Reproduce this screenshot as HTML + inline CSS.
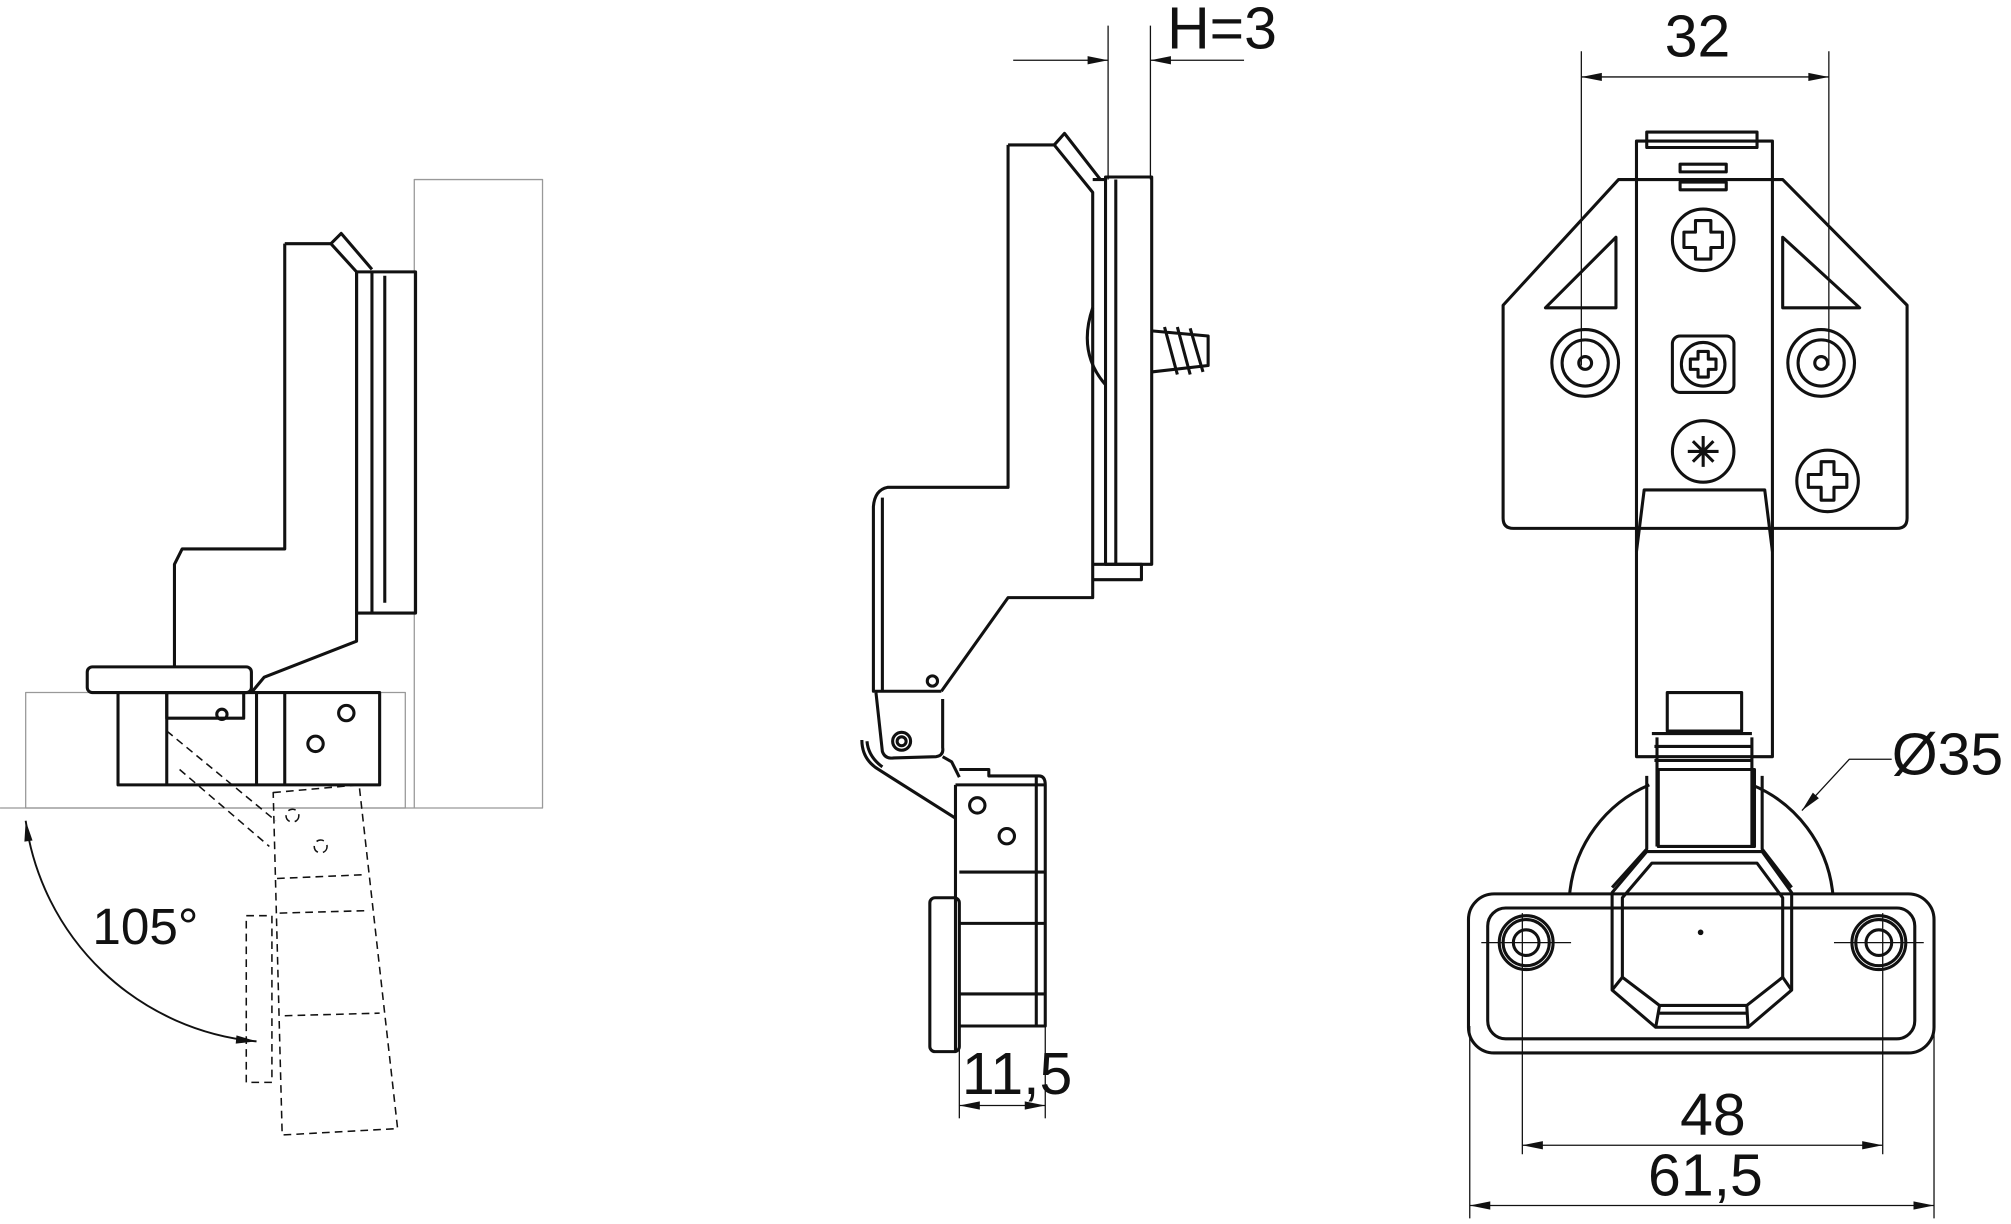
<!DOCTYPE html>
<html><head><meta charset="utf-8">
<style>
html,body{margin:0;padding:0;background:#fff;}
svg{display:block;}
text{font-family:"Liberation Sans",sans-serif;fill:#111;}
</style></head>
<body>
<svg width="2011" height="1224" viewBox="0 0 1568 954.4" xmlns="http://www.w3.org/2000/svg">
<defs>
<marker id="b" viewBox="0 0 20 10" refX="20" refY="5" markerWidth="20" markerHeight="8" orient="auto-start-reverse" markerUnits="userSpaceOnUse"><path d="M0,1 L20,5 L0,9 Z" fill="#111"/></marker>
</defs>
<g fill="none" stroke="#111" stroke-width="2.4" stroke-linejoin="round">
<!-- LEFT VIEW -->
<g stroke="#999" stroke-width="1">
<rect x="323" y="140" width="100" height="490"/>
<line x1="0" y1="630" x2="323" y2="630"/>
<rect x="20" y="540" width="296" height="90"/>
</g>
<path d="M222,190 L258,190 L278,212 L278,500 L206,528 L196,540 M222,190 L222,428 L142,428 L136,440 L136,520"/>
<path d="M258,190 L266,182 L290,210"/>
<rect x="278" y="212" width="46" height="266"/>
<line x1="290" y1="212" x2="290" y2="478"/>
<line x1="300" y1="215" x2="300" y2="470"/>
<rect x="68" y="520" width="128" height="20" rx="4"/>
<rect x="92" y="540" width="204" height="72"/>
<line x1="130" y1="540" x2="130" y2="612"/>
<line x1="200" y1="540" x2="200" y2="612"/>
<line x1="222" y1="540" x2="222" y2="612"/>
<rect x="130" y="540" width="60" height="20"/>
<circle cx="173" cy="557" r="4"/>
<circle cx="270" cy="556" r="6"/>
<circle cx="246" cy="580" r="6"/>
<g stroke-dasharray="6,4" stroke-width="1.2">
<path d="M213,618 L280,612 L310,880 L220,885 Z"/>
<line x1="216" y1="685" x2="285" y2="682"/>
<line x1="218" y1="712" x2="288" y2="710"/>
<line x1="222" y1="792" x2="296" y2="790"/>
<rect x="192" y="714" width="20" height="130"/>
<circle cx="228" cy="636" r="5"/>
<circle cx="250" cy="660" r="5"/>
<path d="M130,570 L215,640 M140,600 L210,660"/>
</g>
<path d="M20,640 A200,200 0 0 0 200,812" marker-start="url(#b)" marker-end="url(#b)" stroke-width="1.5"/>
<!-- MIDDLE VIEW -->
<g stroke-width="1">
<line x1="864" y1="20" x2="864" y2="140"/>
<line x1="897" y1="20" x2="897" y2="140"/>
<line x1="790" y1="47" x2="864" y2="47" marker-end="url(#b)"/>
<line x1="970" y1="47" x2="897" y2="47" marker-end="url(#b)"/>
<line x1="748" y1="800" x2="748" y2="872"/>
<line x1="815" y1="800" x2="815" y2="872"/>
<line x1="748" y1="862" x2="815" y2="862" marker-start="url(#b)" marker-end="url(#b)"/>
</g>
<path d="M786,113 L822,113 L852,150 L852,466 L786,466 L734,539"/>
<path d="M786,113 L786,380 L692,380 Q682,382 681,395 L681,539 L734,539"/>
<line x1="688" y1="388" x2="688" y2="539"/>
<path d="M822,113 L830,104 L858,140"/>
<rect x="862" y="138" width="36" height="302"/>
<line x1="852" y1="140" x2="862" y2="140"/>
<line x1="870" y1="140" x2="870" y2="440"/>
<path d="M852,440 L890,440 L890,452 L852,452"/>
<path d="M852,240 Q840,275 862,300"/>
<path d="M898,258 L942,262 L942,285 L898,290 M908,255 L918,292 M918,255 L928,292 M928,256 L938,290"/>
<circle cx="727" cy="531" r="4"/>
<path d="M683,540 L688,586 Q690,592 697,591 L730,590 Q736,589 735,583 L735,545"/>
<circle cx="703" cy="578" r="7"/><circle cx="703" cy="578" r="3.5"/>
<path d="M672,577 Q672,592 685,600 L745,638"/>
<path d="M676,578 Q677,590 688,598"/>
<path d="M735,590 L742,594 L748,606"/>
<path d="M745,612 L745,820 M748,600 L771,600 L771,605 L810,605 Q815,605 815,612 L815,800 L748,800"/>
<line x1="745" y1="612" x2="815" y2="612"/>
<line x1="808" y1="605" x2="808" y2="800"/>
<circle cx="762" cy="628" r="6"/>
<circle cx="785" cy="652" r="6"/>
<rect x="725" y="700" width="23" height="120" rx="4"/>
<line x1="748" y1="680" x2="815" y2="680"/>
<line x1="748" y1="720" x2="815" y2="720"/>
<line x1="748" y1="775" x2="815" y2="775"/>
<!-- RIGHT VIEW -->
<g stroke-width="1">
<line x1="1233" y1="40" x2="1233" y2="285"/>
<line x1="1426" y1="40" x2="1426" y2="285"/>
<line x1="1233" y1="60" x2="1426" y2="60" marker-start="url(#b)" marker-end="url(#b)"/>
<line x1="1187" y1="712" x2="1187" y2="900"/>
<line x1="1468" y1="712" x2="1468" y2="900"/>
<line x1="1187" y1="893" x2="1468" y2="893" marker-start="url(#b)" marker-end="url(#b)"/>
<line x1="1146" y1="800" x2="1146" y2="950"/>
<line x1="1508" y1="800" x2="1508" y2="950"/>
<line x1="1146" y1="940" x2="1508" y2="940" marker-start="url(#b)" marker-end="url(#b)"/>
<path d="M1475,592 L1442,592 L1405,632" marker-end="url(#b)"/>
<line x1="1155" y1="735" x2="1225" y2="735"/>
<line x1="1430" y1="735" x2="1500" y2="735"/>
</g>
<path d="M1172,238 L1262,140 L1390,140 L1487,238 L1487,404 Q1487,412 1479,412 L1180,412 Q1172,412 1172,404 Z"/>
<path d="M1205,240 L1260,185 L1260,240 Z M1390,185 L1450,240 L1390,240 Z"/>
<rect x="1276" y="110" width="106" height="480"/>
<rect x="1284" y="103" width="86" height="12"/>
<path d="M1276,430 L1282,382 L1376,382 L1382,430"/>
<rect x="1300" y="540" width="58" height="30"/>
<rect x="1310" y="128" width="36" height="6"/><rect x="1310" y="142" width="36" height="6"/>
<circle cx="1328" cy="187" r="24"/>
<path d="M1322,172 h12 v9 h9 v12 h-9 v9 h-12 v-9 h-9 v-12 h9 Z"/>
<circle cx="1236" cy="283" r="26"/><circle cx="1236" cy="283" r="18"/>
<circle cx="1420" cy="283" r="26"/><circle cx="1420" cy="283" r="18"/>
<circle cx="1236" cy="283" r="5"/><circle cx="1420" cy="283" r="5"/>
<rect x="1304" y="262" width="48" height="44" rx="6"/>
<circle cx="1328" cy="284" r="17"/>
<path d="M1324,274 h8 v6 h6 v8 h-6 v6 h-8 v-6 h-6 v-8 h6 Z"/>
<circle cx="1328" cy="352" r="24"/>
<path d="M1316,352 h24 M1328,340 v24 M1320,344 l16,16 M1336,344 l-16,16"/>
<circle cx="1425" cy="375" r="24"/>
<path d="M1420,360 h10 v10 h10 v10 h-10 v10 h-10 v-10 h-10 v-10 h10 Z"/>
<path d="M1224,696 A103,103 0 0 1 1286,612 M1366,612 A103,103 0 0 1 1429,696"/>
<path d="M1288,572 L1366,572 M1290,582 L1366,582 M1290,593 L1366,593"/>
<rect x="1293" y="600" width="75" height="60"/>
<path d="M1292,575 L1292,660 M1284,605 L1284,662 L1257,692 M1366,575 L1366,660 M1374,605 L1374,662 L1397,692"/>
<rect x="1145" y="697" width="363" height="124" rx="20"/>
<rect x="1160" y="708" width="333" height="102" rx="14"/>
<path d="M1257,696 L1257,772 L1291,801 L1363,801 L1397,772 L1397,696 L1374,664 L1284,664 Z"/>
<path d="M1265,700 L1265,762 L1294,784 L1362,784 L1390,762 L1390,700 L1370,673 L1288,673 Z"/>
<path d="M1291,801 L1294,784 M1363,801 L1362,784 M1257,772 L1265,762 M1397,772 L1390,762 M1294,790 L1362,790"/>
<circle cx="1326" cy="727" r="1" fill="#111"/>
<circle cx="1190" cy="735" r="21"/><circle cx="1190" cy="735" r="18"/><circle cx="1190" cy="735" r="10"/>
<circle cx="1465" cy="735" r="21"/><circle cx="1465" cy="735" r="18"/><circle cx="1465" cy="735" r="10"/>
</g>
<g font-size="46">
<text x="910" y="38">H=3</text>
<text x="1298" y="44">32</text>
<text x="1475" y="604">Ø35</text>
<text x="1310" y="885">48</text>
<text x="1285" y="932">61,5</text>
<text x="750" y="853">11,5</text>
<text x="72" y="736" font-size="40">105°</text>
</g>
</svg>
</body></html>
